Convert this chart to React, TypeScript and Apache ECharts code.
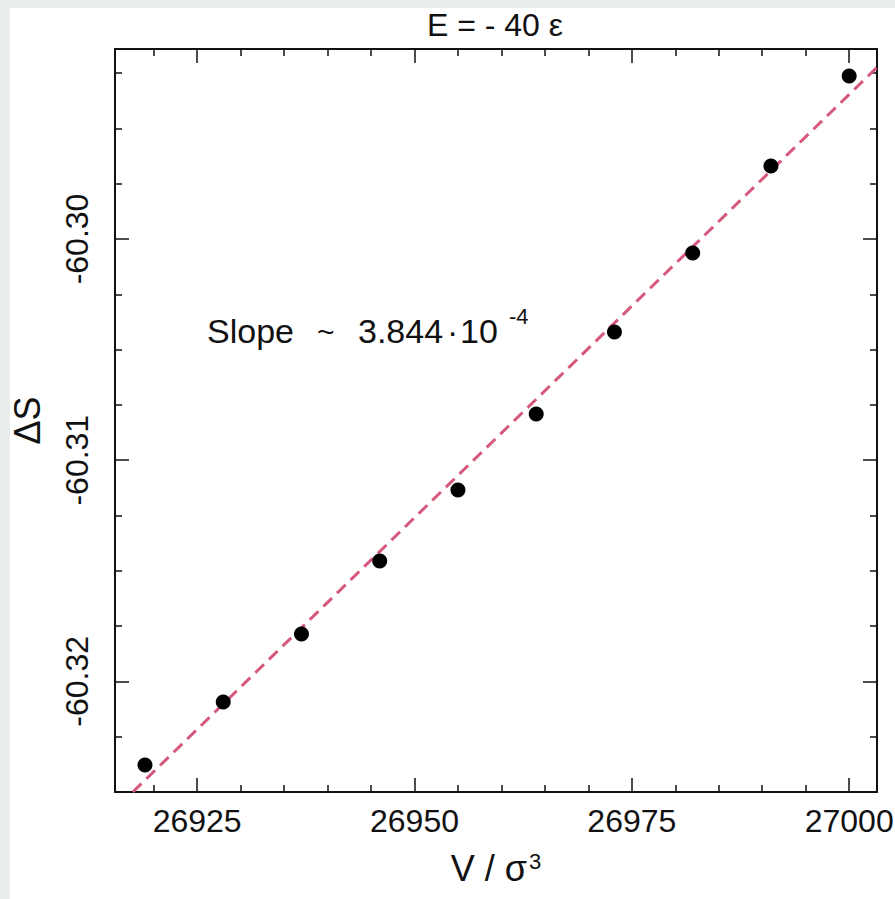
import React, { useEffect, useRef } from "react";
import * as echarts from "echarts";

// Measured points: volume V / sigma^3 and entropy difference ΔS
const volumes = [26919, 26928, 26937, 26946, 26955, 26964, 26973, 26982, 26991, 27000];
const deltaS = [-60.32378, -60.32093, -60.31786, -60.31456, -60.31135, -60.30791, -60.3042, -60.30063, -60.2967, -60.29263];

// Linear fit (slope ~ 3.844e-4), two end points
const fitX = [26917.6, 27003.3];
const fitY = [-60.325, -60.2922];

// Axis ranges and tick values
const xRange = [26915.55, 27003.2];
const yRange = [-60.325, -60.29141];
const xMajorTicks = [26925, 26950, 26975, 27000];
const xMinorTicks = [26920, 26930, 26935, 26940, 26945, 26955, 26960, 26965, 26970, 26980, 26985, 26990, 26995];
const yMajorTicks = [-60.32, -60.31, -60.3];
const yMinorTicks = [-60.325, -60.3225, -60.3175, -60.315, -60.3125, -60.3075, -60.305, -60.3025, -60.2975, -60.295, -60.2925];

const titleText = "E = - 40 ε";
const slopeParts = ["Slope", "~", "3.844", "·", "10", "-4"];

const FONT = "'Liberation Sans', Arial, Helvetica, sans-serif";
const INK = "#111111";

function xAxisDef(pos: "bottom" | "top", ticks: number[], len: number, main: boolean) {
  const labelled = main && pos === "bottom" && len > 10;
  return {
    type: "value",
    position: pos,
    min: xRange[0],
    max: xRange[1],
    axisLine: { show: main, lineStyle: { color: INK, width: 2 } },
    axisTick: { show: true, inside: true, length: len, customValues: ticks, lineStyle: { color: INK, width: 1.5 } },
    axisLabel: {
      show: labelled,
      customValues: ticks,
      fontSize: 32,
      fontFamily: FONT,
      color: INK,
      margin: 13,
      formatter: (v: number) => String(Math.round(v)),
    },
    splitLine: { show: false },
    ...(labelled
      ? {
          name: "{a|V / σ}{b|3}",
          nameLocation: "middle",
          nameGap: 58,
          nameTextStyle: {
            rich: {
              a: { fontSize: 36, fontFamily: FONT, color: INK },
              b: { fontSize: 22, fontFamily: FONT, color: INK, verticalAlign: "top", padding: [0, 0, 14, 2] },
            },
          },
        }
      : {}),
  };
}

function yAxisDef(pos: "left" | "right", ticks: number[], len: number, main: boolean) {
  const labelled = main && pos === "left" && len > 10;
  return {
    type: "value",
    position: pos,
    min: yRange[0],
    max: yRange[1],
    axisLine: { show: main, lineStyle: { color: INK, width: 2 } },
    axisTick: { show: true, inside: true, length: len, customValues: ticks, lineStyle: { color: INK, width: 1.5 } },
    axisLabel: {
      show: labelled,
      customValues: ticks,
      rotate: 90,
      fontSize: 32,
      fontFamily: FONT,
      color: INK,
      margin: 22,
      formatter: (v: number) => v.toFixed(2),
    },
    splitLine: { show: false },
    ...(labelled
      ? {
          name: "ΔS",
          nameLocation: "middle",
          nameGap: 70,
          nameRotate: 90,
          nameTextStyle: { fontSize: 36, fontFamily: FONT, color: INK },
        }
      : {}),
  };
}

export default function App() {
  const ref = useRef<HTMLDivElement>(null);
  useEffect(() => {
    if (!ref.current) return;
    const chart = echarts.init(ref.current, undefined, { renderer: "svg" });
    const points = volumes.map((v, i) => [v, deltaS[i]]);
    const fit = fitX.map((v, i) => [v, fitY[i]]);
    const partX = [207, 317, 358, 447, 460, 509];
    const partY = [331, 331, 331, 331, 331, 316];
    const partSize = [34, 30, 34, 34, 34, 22];
    chart.setOption({
      animation: false,
      backgroundColor: "transparent",
      grid: {
        left: 115,
        top: 49,
        right: 18,
        bottom: 107,
        show: true,
        backgroundColor: "#ffffff",
        borderWidth: 0,
        containLabel: false,
        outerBoundsMode: "none",
      },
      xAxis: [
        xAxisDef("bottom", xMajorTicks, 14, true),
        xAxisDef("bottom", xMinorTicks, 7, false),
        xAxisDef("top", xMajorTicks, 14, true),
        xAxisDef("top", xMinorTicks, 7, false),
      ],
      yAxis: [
        yAxisDef("left", yMajorTicks, 14, true),
        yAxisDef("left", yMinorTicks, 7, false),
        yAxisDef("right", yMajorTicks, 14, true),
        yAxisDef("right", yMinorTicks, 7, false),
      ],
      graphic: [
        {
          type: "text",
          x: 495,
          y: 25,
          style: { text: titleText, fontSize: 32, fontFamily: FONT, fill: INK, align: "center", verticalAlign: "middle" },
        },
        ...slopeParts.map((t, i) => ({
          type: "text",
          x: partX[i],
          y: partY[i],
          style: { text: t, fontSize: partSize[i], fontFamily: FONT, fill: INK, align: "left", verticalAlign: "middle" },
        })),
      ],
      series: [
        {
          type: "line",
          data: fit,
          xAxisIndex: 0,
          yAxisIndex: 0,
          symbol: "none",
          clip: true,
          lineStyle: { color: "#d6587a", width: 3, type: [12, 7] },
          z: 2,
        },
        {
          type: "scatter",
          data: points,
          xAxisIndex: 0,
          yAxisIndex: 0,
          symbol: "circle",
          symbolSize: 15,
          itemStyle: { color: "#000000", opacity: 1 },
          z: 3,
        },
      ],
    });
    return () => chart.dispose();
  }, []);
  return (
    <div style={{ position: "fixed", left: 0, top: 0, width: 895, height: 899, background: "#e8eded" }}>
      <div style={{ position: "absolute", left: 10, top: 8, right: 0, bottom: 0, background: "#ffffff" }} />
      <div ref={ref} style={{ position: "absolute", left: 0, top: 0, width: 895, height: 899 }} />
    </div>
  );
}
